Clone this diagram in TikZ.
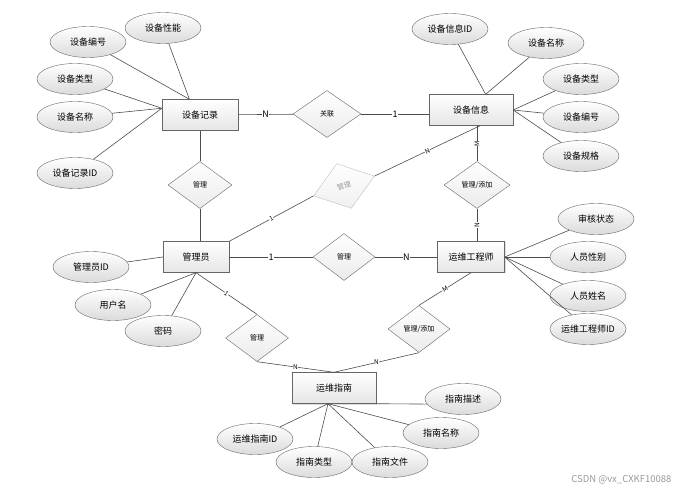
\documentclass[tikz,border=0pt]{standalone}
\usepackage{fontspec}
\newfontfamily\cjk{Noto Sans CJK SC}
\usetikzlibrary{shapes.geometric}
\usetikzlibrary{shadows}

\begin{document}
\begin{tikzpicture}[x=1pt, y=-1pt,
    ent/.style={rectangle, draw=black!60, top color=white, bottom color=black!10, minimum width=#1, minimum height=31pt, inner sep=0pt, font=\cjk\fontsize{9}{9}\selectfont, drop shadow={shadow xshift=1pt, shadow yshift=-1pt, opacity=0.25}},
    ent/.default=76pt,
    attr/.style={ellipse, draw=black!60, top color=white, bottom color=black!14, minimum width=76pt, minimum height=31pt, inner sep=0pt, font=\cjk\fontsize{9}{9}\selectfont},
    rel/.style={diamond, draw=black!60, top color=white, bottom color=black!8, minimum width=#1, minimum height=47pt, inner sep=0pt, font=\cjk\fontsize{7}{7}\selectfont},
    rel/.default=64pt,
    conn/.style={draw=black!70, line width=0.6pt},
    card/.style={fill=white, inner sep=0.5pt, font=\cjk\fontsize{9}{9}\selectfont},
    smallcard/.style={fill=white, inner sep=0.3pt, font=\cjk\fontsize{6.5}{6.5}\selectfont}]
  \useasboundingbox (0,0) rectangle (685,494);

  \node[ent=76pt] (sbjl) at (200,115) {设备记录};
  \node[ent=84pt] (sbxx) at (471,110) {设备信息};
  \node[ent=66pt] (gly) at (196,257) {管理员};
  \node[ent=67pt] (ywgcs) at (471,257) {运维工程师};
  \node[ent=84pt] (ywzn) at (334,388) {运维指南};

  \node[rel=68pt] (gl) at (327,114) {关联};
  \node[rel=64pt] (gl1) at (200,185) {管理};
  \node[rel=64pt, draw=black!25, text=black!40, top color=white, bottom color=black!6, rotate=18] (gl2) at (344,186) {管理};
  \node[rel=62pt] (gl3) at (344,257) {管理};
  \node[rel=66pt] (gltj1) at (477,185) {管理/添加};
  \node[rel=63pt] (gl4) at (257,338) {管理};
  \node[rel=62pt] (gltj2) at (419,329) {管理/添加};

  \node[attr] (sbxn) at (163,28) {设备性能};
  \node[attr] (sbbh) at (88,42) {设备编号};
  \node[attr] (sblx) at (75,79) {设备类型};
  \node[attr] (sbmc) at (75,117) {设备名称};
  \node[attr] (sbjlid) at (75,173) {设备记录ID};

  \node[attr] (sbxxid) at (450,29) {设备信息ID};
  \node[attr] (sbmc2) at (546,43) {设备名称};
  \node[attr] (sblx2) at (581,79) {设备类型};
  \node[attr] (sbbh2) at (581,117) {设备编号};
  \node[attr] (sbgg) at (581,156) {设备规格};

  \node[attr] (shzt) at (596,219) {审核状态};
  \node[attr] (ryxb) at (588,257) {人员性别};
  \node[attr] (ryxm) at (588,296) {人员姓名};
  \node[attr] (ywgcsid) at (588,329) {运维工程师ID};

  \node[attr] (glyid) at (91,267) {管理员ID};
  \node[attr] (yhm) at (113,305) {用户名};
  \node[attr] (mm) at (163,331) {密码};

  \node[attr] (znms) at (463,399) {指南描述};
  \node[attr] (znmc) at (441,433) {指南名称};
  \node[attr] (ywznid) at (255,439) {运维指南ID};
  \node[attr] (znlx) at (314,462) {指南类型};
  \node[attr] (znwj) at (390,462) {指南文件};

  \node[anchor=east, text=black!40, font=\cjk\fontsize{9.5}{9.5}\selectfont] (wm) at (675,480) {CSDN @vx\_CXKF10088};

  \draw[conn] (sbjl) -- node[card] {N} (gl);
  \draw[conn] (gl) -- node[card] {1} (gl -| sbxx.west);
  \draw[conn] (sbjl) -- (gl1);
  \draw[conn] (gl1.south) -- (gl1.south |- gly.north);
  \draw[conn] (gly.north east) -- node[smallcard, sloped] {1} (gl2.west);
  \draw[conn] (gl2.east) -- node[smallcard, sloped] {N} (sbxx.300);
  \draw[conn] (gltj1.north |- sbxx.south) -- node[smallcard, rotate=90] {M} (gltj1.north);
  \draw[conn] (gltj1.south) -- node[smallcard, rotate=90] {N} (gltj1.south |- ywgcs.north);
  \draw[conn] (gly) -- node[card] {1} (gl3);
  \draw[conn] (gl3) -- node[card] {N} (ywgcs);
  \draw[conn] (gly.south) -- node[smallcard, sloped] {1} (gl4.north);
  \draw[conn] (gl4.south) -- node[smallcard] {N} (ywzn.north);
  \draw[conn] (ywgcs.south) -- node[smallcard, sloped] {M} (gltj2.north);
  \draw[conn] (gltj2.south) -- node[smallcard] {N} (ywzn.north);

  \draw[conn] (sbxn) -- (sbjl.124);
  \draw[conn] (sbbh) -- (sbjl.124);
  \draw[conn] (sblx) -- (sbjl.170);
  \draw[conn] (sbmc) -- (sbjl.170);
  \draw[conn] (sbjlid) -- (sbjl.170);

  \draw[conn] (sbxxid) -- (sbxx.47);
  \draw[conn] (sbmc2) -- (sbxx.47);
  \draw[conn] (sblx2) -- (sbxx.east);
  \draw[conn] (sbbh2) -- (sbxx.east);
  \draw[conn] (sbgg) -- (sbxx.east);

  \draw[conn] (shzt) -- (ywgcs.east);
  \draw[conn] (ryxb) -- (ywgcs.east);
  \draw[conn] (ryxm) -- (ywgcs.east);
  \draw[conn] (ywgcsid) -- (ywgcs.east);

  \draw[conn] (glyid) -- (gly.west);
  \draw[conn] (yhm) -- (gly.south);
  \draw[conn] (mm) -- (gly.south);

  \draw[conn] (ywzn.south east) -- (znms.188);
  \draw[conn] (znmc) -- (ywzn.249);
  \draw[conn] (ywznid) -- (ywzn.249);
  \draw[conn] (znlx) -- (ywzn.249);
  \draw[conn] (znwj) -- (ywzn.249);
\end{tikzpicture}
\end{document}
